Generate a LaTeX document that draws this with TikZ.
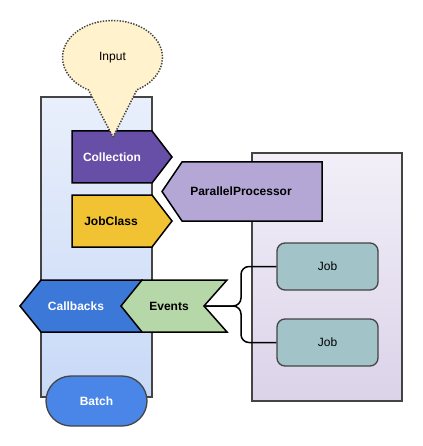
\documentclass[tikz,border=0pt]{standalone}
\usepackage{fontspec}
\setmainfont{Liberation Sans}
\usetikzlibrary{shapes.callouts}

\definecolor{collfill}{HTML}{674EA7}
\definecolor{classfill}{HTML}{F1C232}
\definecolor{procfill}{HTML}{B4A7D6}
\definecolor{cbfill}{HTML}{3C78D8}
\definecolor{evfill}{HTML}{B6D7A8}
\definecolor{batchfill}{HTML}{4A86E8}
\definecolor{jobfill}{HTML}{A2C4C9}
\definecolor{inputfill}{HTML}{FFF2CC}
\definecolor{boxgray}{HTML}{444444}

\tikzset{
	txt/.style={font=\fontsize{12}{14}\selectfont},
	bold/.style={txt, font=\fontsize{12}{14}\selectfont\bfseries},
	boldw/.style={bold, text=white},
	tab/.style={draw=black, line width=1.5pt, line join=miter},
	frame/.style={draw=boxgray, line width=1.3pt},
	jobbox/.style={txt, draw=boxgray, fill=jobfill, line width=1.3pt, rounded corners=8pt,
		minimum width=101pt, minimum height=47pt},
}

\begin{document}
\begin{tikzpicture}[x=1pt,y=-1pt]
	\useasboundingbox (0,0) rectangle (422,446);

	% containers
	\draw[frame, top color={rgb,255:red,233;green,239;blue,251}, bottom color={rgb,255:red,200;green,217;blue,247}] (41,97) rectangle (152,397);
	\draw[frame, top color={rgb,255:red,242;green,239;blue,248}, bottom color={rgb,255:red,219;green,211;blue,233}] (252,153) rectangle (402,401);

	% tabs
	\filldraw[tab, fill=collfill] (72,131) -- (152,131) -- (172,157) -- (152,183) -- (72,183) -- cycle;
	\node[boldw] (collection) at (112,157) {Collection};
	\filldraw[tab, fill=classfill] (72,195) -- (152,195) -- (172,221) -- (152,247) -- (72,247) -- cycle;
	\node[bold] (jobclass) at (111,221) {JobClass};
	\filldraw[tab, fill=procfill] (162,191.5) -- (182,162) -- (322,162) -- (322,221) -- (182,221) -- cycle;
	\node[bold] (parproc) at (241,191.5) {ParallelProcessor};

	% jobs
	\node[jobbox] (job1) at (327.5,266.5) {Job};
	\node[jobbox] (job2) at (327.5,342.5) {Job};

	% events
	\filldraw[tab, fill=cbfill] (20,306) -- (41,280) -- (142,280) -- (142,332) -- (41,332) -- cycle;
	\node[boldw] (callbacks) at (76,306) {Callbacks};
	\filldraw[tab, fill=evfill] (121,306) -- (142,280) -- (227,280) -- (204,306) -- (227,332) -- (142,332) -- cycle;
	\coordinate (evnotch) at (204,306);
	\node[bold] (events) at (169,306) {Events};

	\node[boldw, draw=boxgray, fill=batchfill, line width=1.3pt, rounded corners=25pt,
		minimum width=101pt, minimum height=50pt] (batch) at (96.5,401) {Batch};

	% brace to jobs
	\draw[line width=1.5pt, rounded corners=8pt] (evnotch) -- ++(37,0) |- (job1.west);
	\draw[line width=1.5pt, rounded corners=8pt] (evnotch) -- ++(37,0) |- (job2.west);

	% input
	\coordinate (inputtip) at (113,137);
	\node[txt, ellipse callout, draw=boxgray, fill=inputfill, line width=1.5pt, inner sep=0pt, outer sep=0pt,
		dash pattern=on 1.4pt off 1.4pt, minimum width=100pt, minimum height=74pt,
		callout absolute pointer={(inputtip)}, callout pointer arc=58] (input) at (112.5,57.5) {Input};
\end{tikzpicture}
\end{document}
